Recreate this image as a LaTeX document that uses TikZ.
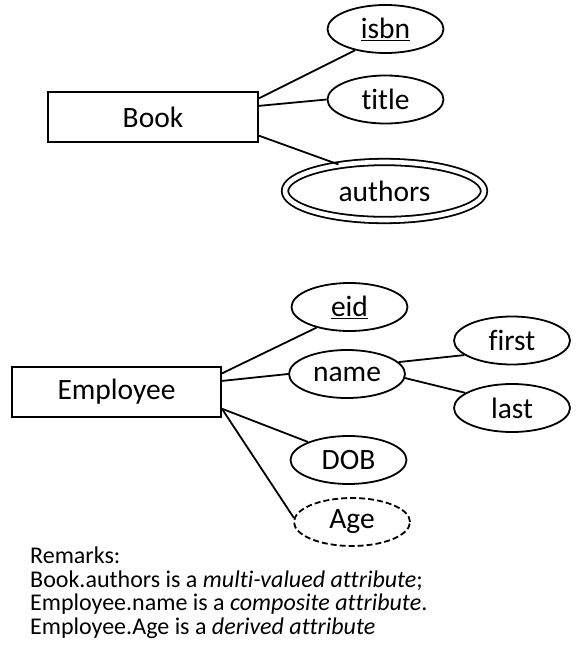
\documentclass[tikz,border=0pt]{standalone}
\usepackage{fontspec}
\setmainfont{Carlito}[Ligatures=NoCommon]
\usepackage{tikz}
\usetikzlibrary{shapes.geometric}

\tikzset{
    entity/.style={rectangle, draw, line width=1.8pt, minimum width=210pt, minimum height=50pt, font=\fontsize{29.5}{35}\selectfont},
    attr/.style={ellipse, draw, line width=1.8pt, inner sep=0pt, minimum width=116pt, minimum height=48pt, font=\fontsize{29.5}{35}\selectfont},
    multiattr/.style={attr, double, double distance=4.6pt, minimum width=199pt, minimum height=58pt},
    derivedattr/.style={attr, dash pattern=on 6pt off 3pt},
    link/.style={line width=1.8pt}
}

\begin{document}
\begin{tikzpicture}[x=1pt, y=-1pt]
    \useasboundingbox (0,0) rectangle (588,654);

    \node[entity] (book) at (153,117) {Book};
    \node[attr] (isbn) at (385.5,29) {\underline{isbn}};
    \node[attr] (title) at (385.5,99.5) {title};
    \node[multiattr] (authors) at (384.5,191) {authors};

    \draw[link] (book.10) -- (isbn.215);
    \draw[link] (book.6) -- (title.west);
    \draw[link] (book.-10) -- (authors.150);

    \node[entity, minimum width=209pt] (employee) at (116.5,392) {Employee};
    \node[attr] (eid) at (349.5,307) {\underline{eid}};
    \node[attr] (name) at (347,374) {name};
    \node[attr] (first) at (512,340.5) {first};
    \node[attr] (last) at (512,408) {last};
    \node[attr] (dob) at (348.5,460) {DOB};
    \node[derivedattr] (age) at (352,522) {Age};

    \draw[link] (employee.10) -- (eid.212);
    \draw[link] (employee.6.5) -- (name.west);
    \draw[link] (employee.-9.5) -- (dob.156);
    \draw[link] (employee.-9.5) -- (age.176);
    \draw[link] (name.13) -- (first.197);
    \draw[link] (name.-4) -- (last.162);

    \node[anchor=north west, inner sep=0pt, align=left, font=\fontsize{24}{23.5}\selectfont] (remarks) at (30,547) {Remarks:\\
        Book.authors is a \textit{multi-valued attribute};\\
        Employee.name is a \textit{composite attribute}.\\
        Employee.Age is a \textit{derived attribute}};
\end{tikzpicture}
\end{document}
